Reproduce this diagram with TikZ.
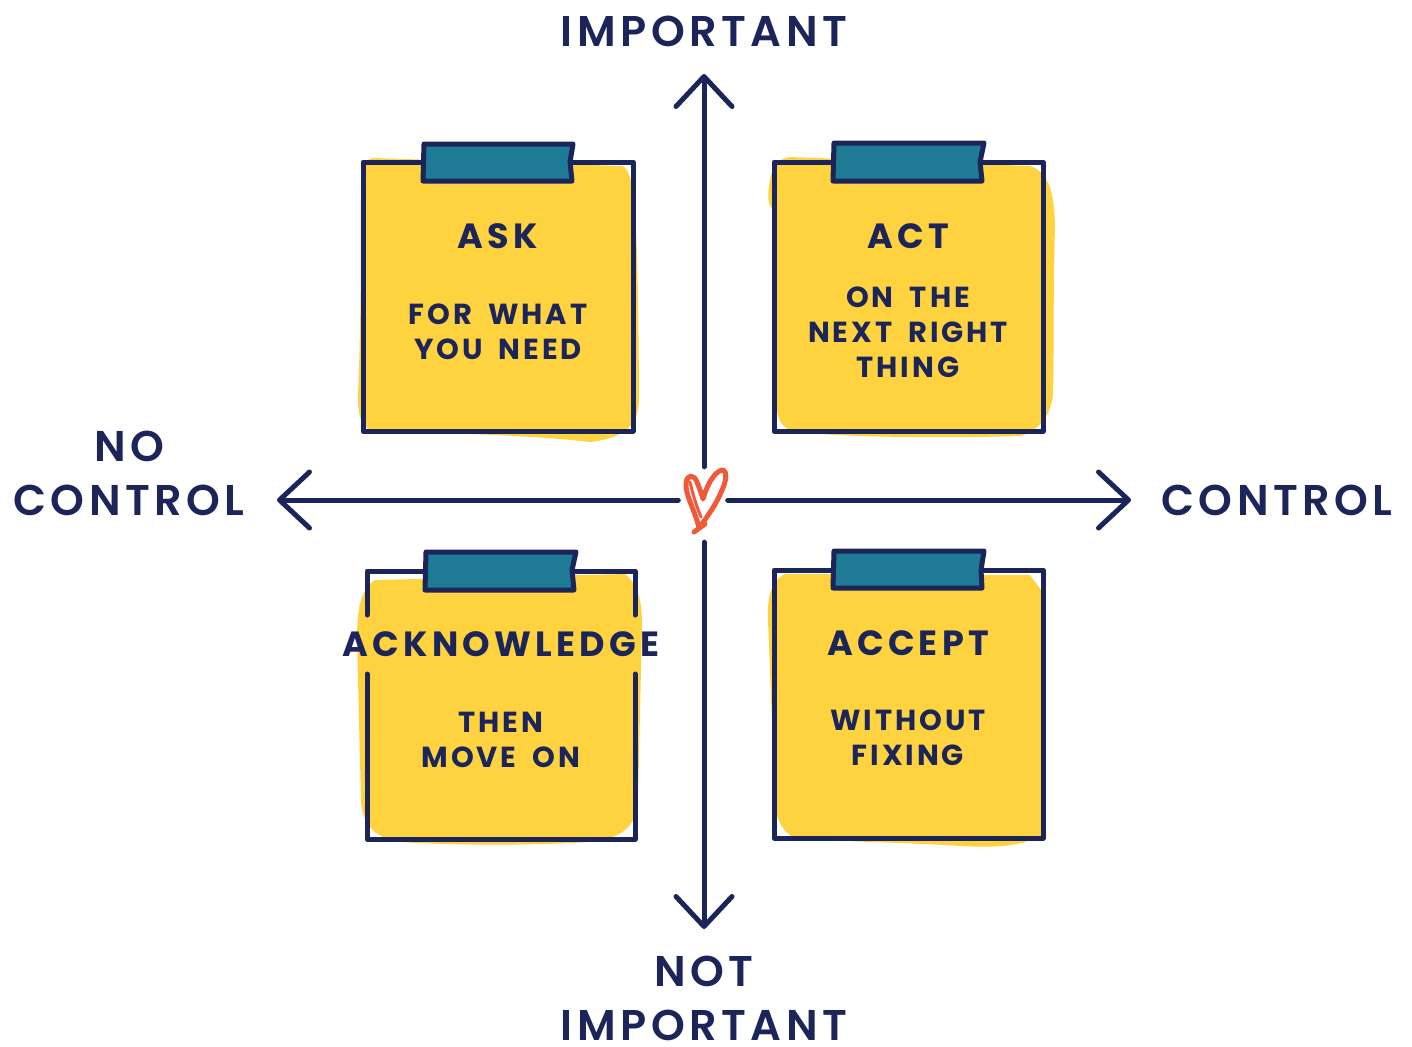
\documentclass[tikz,border=0pt]{standalone}
\usepackage{fontspec}
\usetikzlibrary{arrows.meta}
\setmainfont{Poppins SemiBold}
\newfontfamily\biglabelfont[LetterSpace=10.5]{Poppins SemiBold}
\newfontfamily\headfont[LetterSpace=12]{Poppins Bold}
\newfontfamily\subfont[LetterSpace=10,WordSpace=1.8]{Poppins Bold}
\definecolor{navy}{HTML}{1B2559}
\definecolor{paper}{HTML}{FFD340}
\definecolor{teal}{HTML}{1F7A96}
\definecolor{heartred}{HTML}{EE5A3A}
\tikzset{
  x=1pt,y=-1pt,
  frame/.style={draw=navy,line width=5pt,line cap=round,line join=round},
  tape/.style={fill=teal,draw=navy,line width=5pt,line join=round},
  axis/.style={draw=navy,line width=5pt,line cap=round,-{Straight Barb[length=30pt,width=56pt,line width=5pt,round]}},
  biglabel/.style={text=navy,font=\biglabelfont\fontsize{43}{54}\selectfont,align=center,inner sep=0pt},
  head/.style={text=navy,font=\headfont\fontsize{35}{42}\selectfont,align=center,inner sep=0pt},
  sub/.style={text=navy,font=\subfont\fontsize{29}{35}\selectfont,align=center,inner sep=0pt},
  heartstroke/.style={draw=heartred,line width=5pt,line cap=round,line join=round},
}
\begin{document}
\begin{tikzpicture}
\useasboundingbox (0,0) rectangle (1412,1046);
% paper blobs
\fill[paper] (372,158) -- (622,166) .. controls (634,170) and (638,200) .. (639,400) .. controls (638,425) and (625,438) .. (590,442) .. controls (520,434) and (450,434) .. (375,431) .. controls (362,428) and (358,420) .. (358,395) .. controls (362,300) and (360,230) .. (361,180) .. controls (362,165) and (366,160) .. (372,158) -- cycle;
\fill[paper] (790,157) -- (1030,166) .. controls (1048,172) and (1054,190) .. (1055,225) .. controls (1053,300) and (1054,350) .. (1053,395) .. controls (1050,420) and (1035,432) .. (1020,436) .. controls (950,438) and (860,438) .. (795,432) .. controls (782,428) and (778,420) .. (777,410) -- (774,210) .. controls (766,205) and (768,190) .. (770,180) .. controls (772,165) and (780,158) .. (790,157) -- cycle;
\fill[paper] (375,580) -- (625,574) .. controls (638,585) and (642,600) .. (642,625) -- (638,800) .. controls (636,825) and (625,838) .. (590,842) .. controls (520,846) and (450,845) .. (400,842) .. controls (375,838) and (362,825) .. (361,800) -- (357,640) .. controls (357,610) and (360,590) .. (375,580) -- cycle;
\fill[paper] (785,574) -- (1030,575) -- (1041,590) -- (1041,836) .. controls (1020,846) and (1000,848) .. (960,846) .. controls (900,842) and (840,842) .. (795,838) .. controls (782,832) and (776,820) .. (775,800) -- (768,620) .. controls (767,595) and (772,580) .. (785,574) -- cycle;
% frames
\draw[frame] (363,162) rectangle (633,431);
\draw[frame] (774,162) rectangle (1043,431);
\draw[frame] (367,615) -- (367,571) -- (635,571) -- (635,615);
\draw[frame] (367,674) -- (367,839) -- (635,839) -- (635,674);
\draw[frame] (774,570) rectangle (1043,838);
% tapes
\draw[tape] (424,144) -- (573,144) -- (570,162) -- (572,181) -- (423,181) -- cycle;
\draw[tape] (834,143) -- (984,143) -- (980,162) -- (982,181) -- (833,181) -- cycle;
\draw[tape] (426,552) -- (576,552) -- (572,570) -- (574,590) -- (425,590) -- cycle;
\draw[tape] (834,551) -- (984,551) -- (981,570) -- (982,588) -- (833,588) -- cycle;
% box texts
\node[head] (askh) at (498,236) {ASK};
\node[sub] (asks) at (498,332) {FOR WHAT\\YOU NEED};
\node[head] (acth) at (908,236) {ACT};
\node[sub] (acts) at (908,332) {ON THE\\NEXT RIGHT\\THING};
\node[head] (ackh) at (501,644) {ACKNOWLEDGE};
\node[sub] (acks) at (501,740) {THEN\\MOVE ON};
\node[head] (acch) at (908,643) {ACCEPT};
\node[sub] (accs) at (908,738) {WITHOUT\\FIXING};
% axis labels
\node[biglabel] (imp) at (704,31) {IMPORTANT};
\node[biglabel] (notimp) at (704,998) {NOT\\IMPORTANT};
\node[biglabel] (noctl) at (129,473) {NO\\CONTROL};
\node[biglabel] (ctl) at (1277,500) {CONTROL};
% centre
\node[minimum width=49pt,minimum height=75pt,inner sep=0pt] (heart) at (703,504.5) {};
\coordinate (tiptop) at (704,74);
\coordinate (tipbot) at (704,929);
\coordinate (tipleft) at (277,500);
\coordinate (tipright) at (1131,500);
\draw[axis] (tiptop |- heart.north) -- (tiptop);
\draw[axis] (tipbot |- heart.south) -- (tipbot);
\draw[axis] (heart.west |- tipleft) -- (tipleft);
\draw[axis] (heart.east |- tipright) -- (tipright);
% heart
\draw[heartstroke] (694,532) -- (705,524);
\draw[heartstroke] (699,528) .. controls (695,510) and (685,495) .. (686,483) .. controls (687,474) and (694,474) .. (697,482) .. controls (700,490) and (702,495) .. (703,499) .. controls (707,485) and (714,472) .. (722,470) .. controls (728,470) and (726,482) .. (722,490) .. controls (716,505) and (708,515) .. (700,527);
\draw[heartstroke,line width=3pt] (690,482) .. controls (693,495) and (696,505) .. (701,517);
\end{tikzpicture}
\end{document}
